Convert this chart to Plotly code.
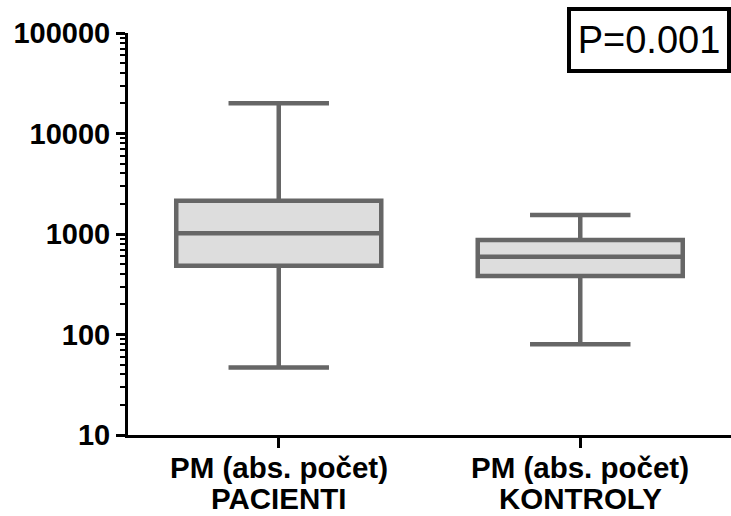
import plotly.graph_objects as go

categories = ["PM (abs. počet)<br>PACIENTI", "PM (abs. počet)<br>KONTROLY"]
lower = [47, 80]
q1 = [484, 382]
median = [1016, 594]
q3 = [2140, 870]
upper = [20000, 1546]
y_ticks = [10, 100, 1000, 10000, 100000]
y_tick_labels = ["10", "100", "1000", "10000", "100000"]
p_text = "P=0.001"

minor_vals = [m * d for d in [10, 100, 1000, 10000] for m in range(2, 10)]

fig = go.Figure()
for i, c in enumerate(categories):
    fig.add_trace(go.Box(
        x=[c], q1=[q1[i]], median=[median[i]], q3=[q3[i]],
        lowerfence=[lower[i]], upperfence=[upper[i]],
        boxpoints=False, width=0.68, whiskerwidth=0.49,
        line=dict(color="#666666", width=4.5), fillcolor="#dddddd",
        showlegend=False, hoverinfo="skip",
    ))

label_font = dict(size=29.5, weight="bold", family="Liberation Sans, Arial", color="black")
annotations = []
for c in categories:
    lines = c.split("<br>")
    for j, (txt, yy) in enumerate(zip(lines, [-0.082, -0.157])):
        annotations.append(dict(
            text=txt, xref="x", yref="paper", x=c, y=yy,
            xanchor="center", yanchor="middle", showarrow=False, font=label_font,
        ))

annotations.append(dict(
    text=p_text, xref="paper", yref="paper", x=1, y=0.9826,
    xanchor="right", yanchor="middle", showarrow=False,
    width=146, height=48, align="center", valign="middle",
    font=dict(size=38, family="Liberation Sans, Arial", color="black"),
    bordercolor="black", borderwidth=4, borderpad=5, bgcolor="white",
))

fig.update_layout(
    width=731, height=516,
    margin=dict(l=128, r=0, t=33, b=81),
    paper_bgcolor="white", plot_bgcolor="white",
    font=dict(family="Liberation Sans, Arial", color="black"),
    xaxis=dict(
        type="category", categoryorder="array", categoryarray=categories,
        range=[-0.5, 1.5], showline=True, linecolor="black", linewidth=3,
        ticks="outside", ticklen=10, tickwidth=3, tickcolor="black",
        showticklabels=False, automargin=False,
        showgrid=False, zeroline=False, fixedrange=True,
    ),
    yaxis=dict(
        type="log", range=[1, 5], showline=True, linecolor="black", linewidth=3,
        tickmode="array", tickvals=y_ticks, ticktext=y_tick_labels,
        ticks="outside", ticklen=9, tickwidth=3, tickcolor="black",
        tickfont=dict(size=29, weight="bold", family="Liberation Sans, Arial"),
        automargin=False,
        minor=dict(tickmode="array", tickvals=minor_vals, ticks="outside",
                   ticklen=5, tickwidth=2, tickcolor="black", showgrid=False),
        showgrid=False, zeroline=False, fixedrange=True,
    ),
    annotations=annotations,
)

fig.write_html("out.html")
